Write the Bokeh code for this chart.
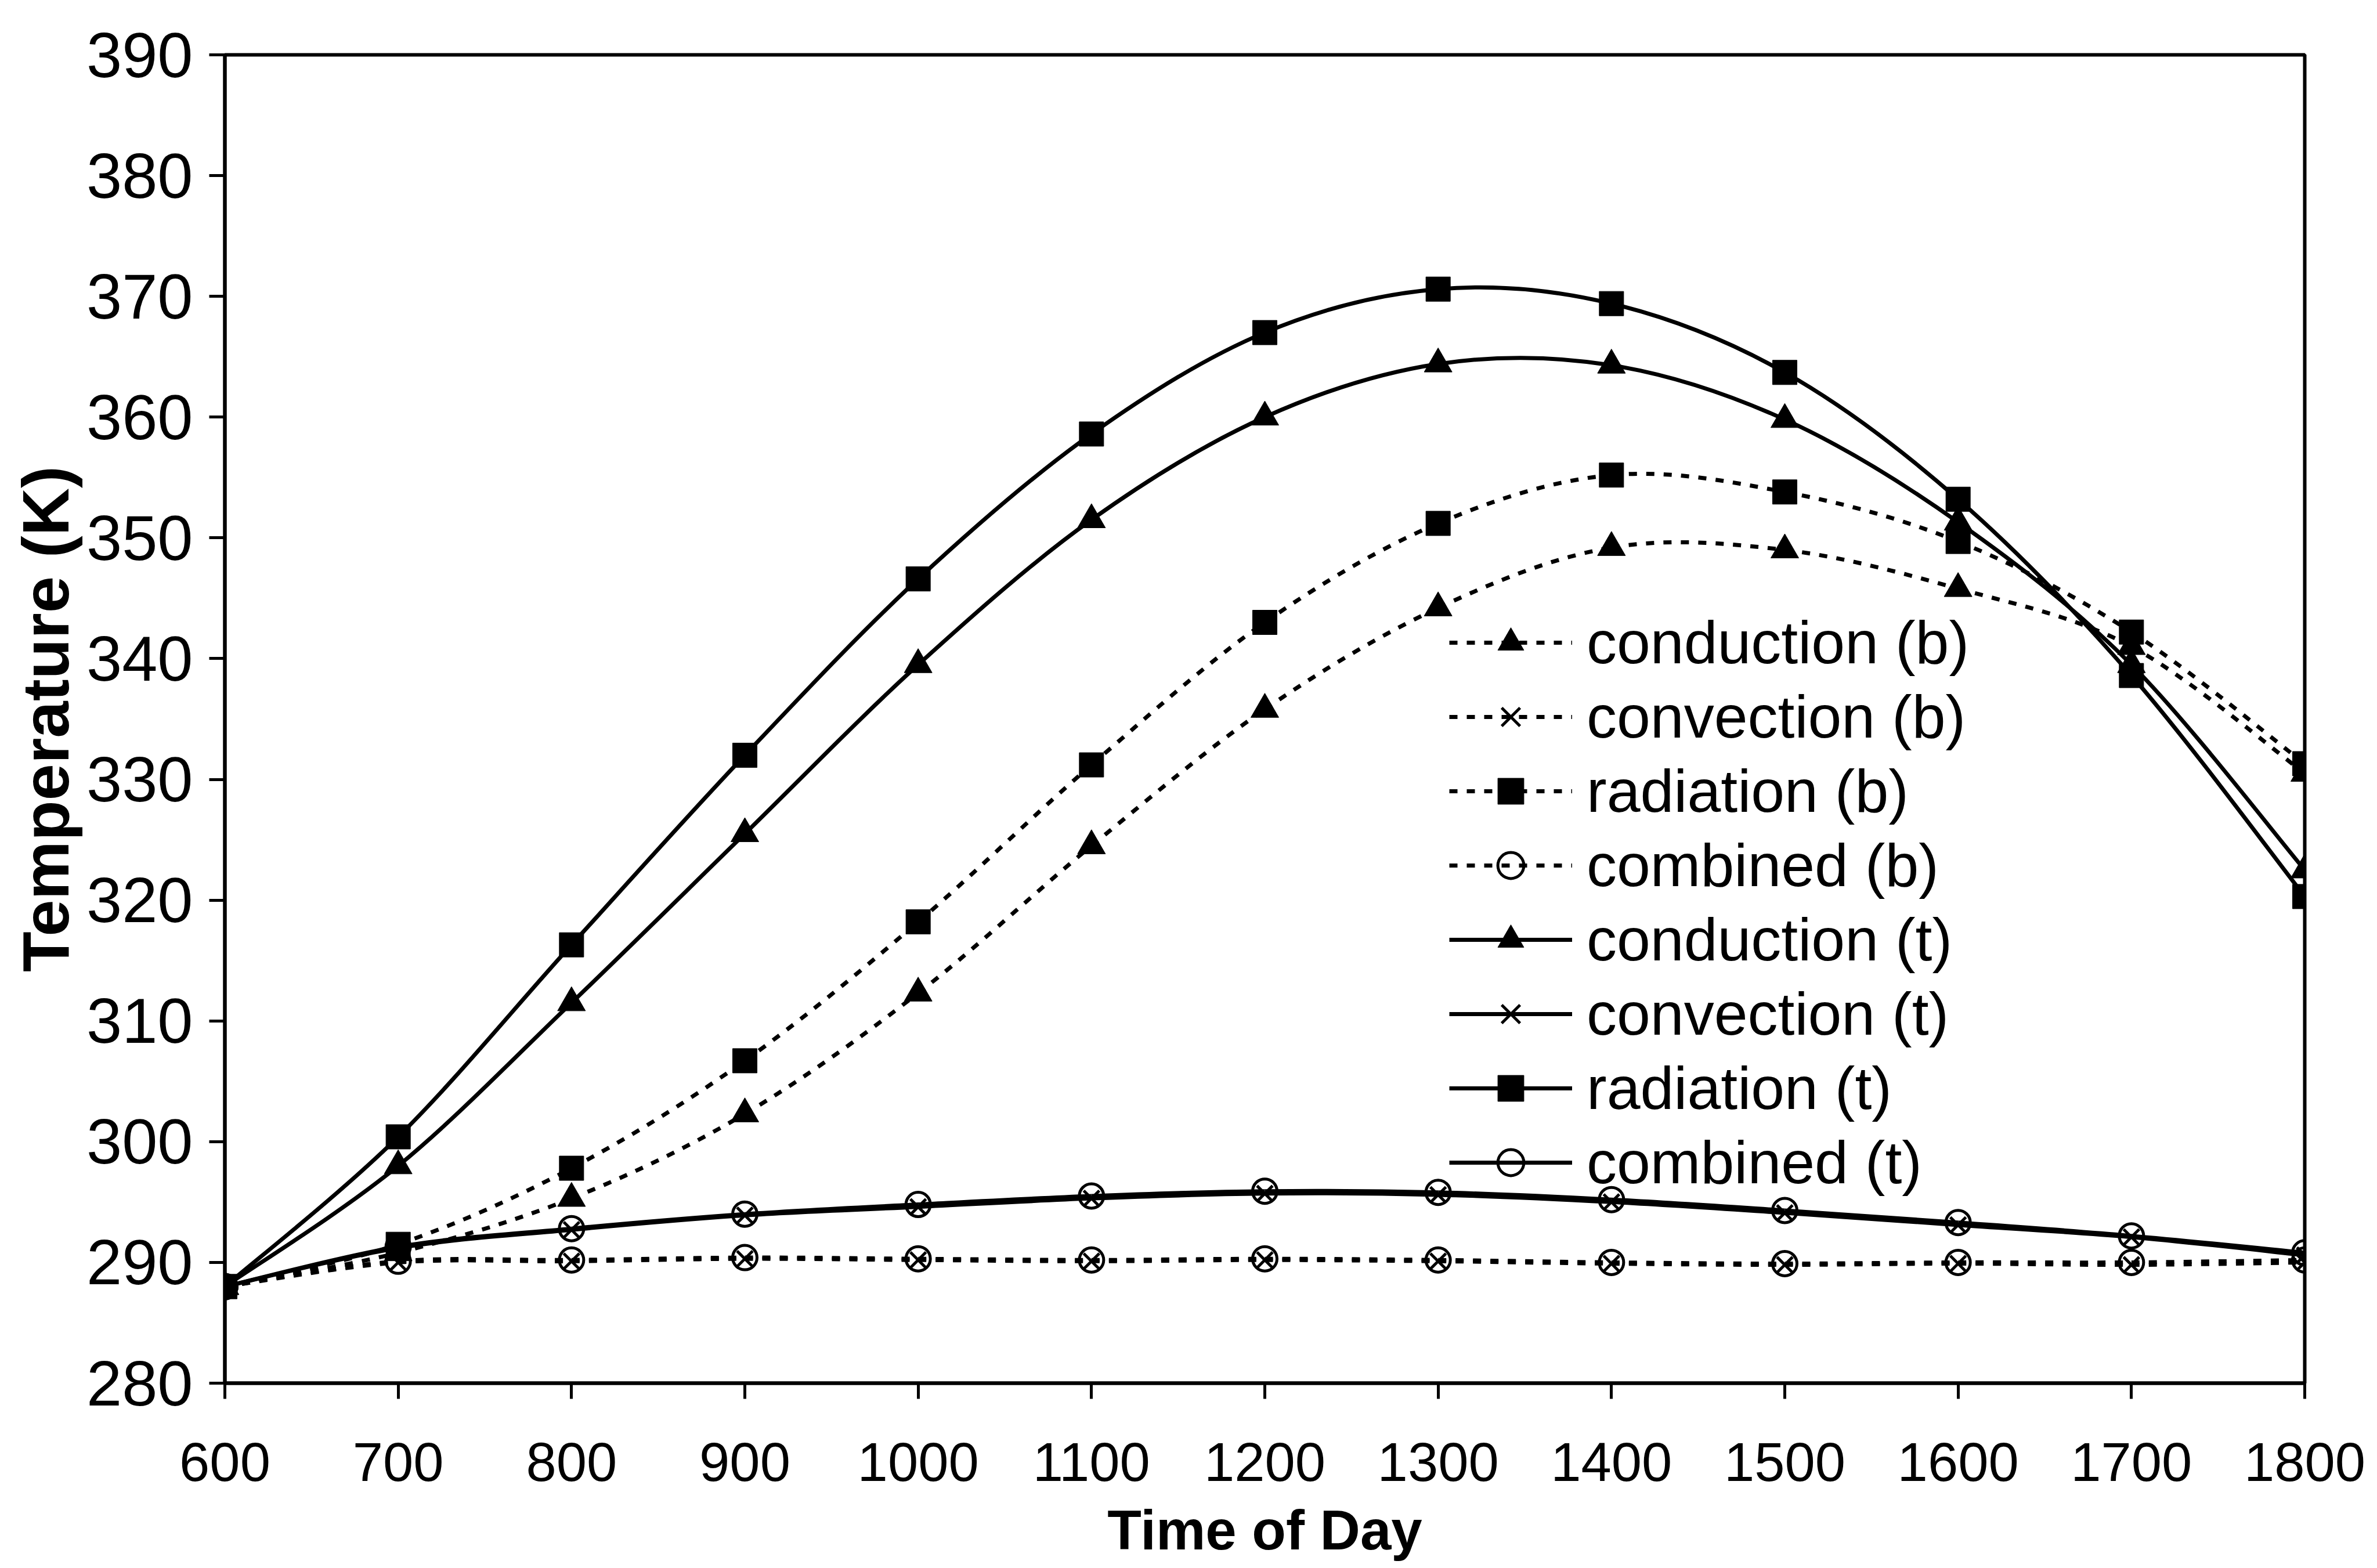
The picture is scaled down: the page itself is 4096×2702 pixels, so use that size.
from bokeh.plotting import figure
from bokeh.models import Range1d, FixedTicker, Legend, LegendItem, ColumnDataSource, CDSView, IndexFilter
from bokeh.embed import file_html
from bokeh.resources import INLINE

# ---------------- data ----------------
time_of_day = [600, 700, 800, 900, 1000, 1100, 1200, 1300, 1400, 1500, 1600, 1700, 1800]

conduction_b = [288, 290.8, 295.3, 302.3, 312.3, 324.5, 335.8, 344.2, 349.2, 349.0, 345.8, 341.0, 330.5]
convection_b = [288, 290.0, 290.1, 290.3, 290.2, 290.1, 290.2, 290.1, 289.9, 289.8, 289.9, 289.8, 290.0]
radiation_b = [288, 291.5, 297.8, 306.7, 318.2, 331.2, 343.0, 351.2, 355.2, 353.8, 349.7, 342.2, 331.3]
combined_b = [288, 290.1, 290.2, 290.4, 290.3, 290.2, 290.3, 290.2, 290.0, 289.9, 290.0, 290.0, 290.2]
conduction_t = [288, 298.0, 311.5, 325.5, 339.5, 351.5, 360.0, 364.4, 364.3, 359.8, 351.3, 339.5, 322.5]
convection_t = [288, 291.2, 292.7, 293.9, 294.6, 295.3, 295.7, 295.6, 295.0, 294.1, 293.1, 292.1, 290.6]
radiation_t = [288, 300.4, 316.3, 332.0, 346.6, 358.6, 367.0, 370.6, 369.4, 363.7, 353.2, 338.6, 320.3]
combined_t = [288, 291.3, 292.8, 294.0, 294.8, 295.5, 295.9, 295.8, 295.2, 294.3, 293.3, 292.2, 290.8]

x_ticks = [600, 700, 800, 900, 1000, 1100, 1200, 1300, 1400, 1500, 1600, 1700, 1800]
y_ticks = [280, 290, 300, 310, 320, 330, 340, 350, 360, 370, 380, 390]

series = [
    ("conduction (b)", conduction_b, "triangle", "dash"),
    ("convection (b)", convection_b, "x", "dash"),
    ("radiation (b)", radiation_b, "square", "dash"),
    ("combined (b)", combined_b, "circle", "dash"),
    ("conduction (t)", conduction_t, "triangle", "solid"),
    ("convection (t)", convection_t, "x", "solid"),
    ("radiation (t)", radiation_t, "square", "solid"),
    ("combined (t)", combined_t, "circle", "solid"),
]

FONT = "Liberation Sans"

p = figure(width=4080, height=2700, output_backend="svg", toolbar_location=None,
           x_range=Range1d(600, 1800), y_range=Range1d(280, 390),
           min_border_left=387, min_border_right=109, min_border_top=94, min_border_bottom=317)
p.background_fill_color = "white"
p.border_fill_color = "white"
p.xgrid.visible = False
p.ygrid.visible = False
p.outline_line_color = "black"
p.outline_line_width = 6

for ax in (p.xaxis[0], p.yaxis[0]):
    ax.axis_line_width = 6
    ax.major_tick_line_width = 5
    ax.major_tick_out = 27
    ax.major_tick_in = 0
    ax.minor_tick_out = 0
    ax.minor_tick_in = 0
    ax.major_label_text_font = FONT
    ax.major_label_text_color = "black"
    ax.axis_label_text_font = FONT
    ax.axis_label_text_font_style = "bold"
    ax.axis_label_text_color = "black"

p.xaxis.ticker = FixedTicker(ticks=x_ticks)
p.yaxis.ticker = FixedTicker(ticks=y_ticks)
p.xaxis.axis_label = "Time of Day"
p.yaxis.axis_label = "Temperature (K)"
p.xaxis.major_label_text_font_size = "94px"
p.yaxis.major_label_text_font_size = "110px"
p.xaxis.axis_label_text_font_size = "96px"
p.yaxis.axis_label_text_font_size = "114px"
p.xaxis.major_label_standoff = 76
p.yaxis.major_label_standoff = 28
p.xaxis.axis_label_standoff = 28
p.yaxis.axis_label_standoff = 4


def smooth_segments(xs, ys):
    n = len(xs)
    seg = dict(x0=[], y0=[], x1=[], y1=[], cx0=[], cy0=[], cx1=[], cy1=[])
    for i in range(n - 1):
        a = i - 1 if i > 0 else i
        d = i + 2 if i + 2 < n else i + 1
        seg["x0"].append(xs[i]); seg["y0"].append(ys[i])
        seg["x1"].append(xs[i + 1]); seg["y1"].append(ys[i + 1])
        seg["cx0"].append(xs[i] + (xs[i + 1] - xs[a]) / 6)
        seg["cy0"].append(ys[i] + (ys[i + 1] - ys[a]) / 6)
        seg["cx1"].append(xs[i + 1] - (xs[d] - xs[i]) / 6)
        seg["cy1"].append(ys[i + 1] - (ys[d] - ys[i]) / 6)
    return seg


items = []
for label, vals, marker, style in series:
    dash = "14 16" if style == "dash" else "solid"
    seg = smooth_segments(time_of_day, vals)
    p.bezier(line_color="black", line_width=7, line_dash=dash, **seg)
    # single-point line renderer: draws nothing in the plot, supplies the legend's line sample
    src = ColumnDataSource(dict(x=time_of_day, y=vals))
    lr = p.line("x", "y", source=src, view=CDSView(filter=IndexFilter(indices=[0])),
                line_color="black", line_width=7, line_dash=dash)
    if marker == "circle":
        sr = p.scatter(time_of_day, vals, marker="circle", size=42, fill_alpha=0,
                       line_color="black", line_width=5)
    elif marker == "x":
        sr = p.scatter(time_of_day, vals, marker="x", size=38,
                       line_color="black", line_width=5)
    elif marker == "triangle":
        sr = p.scatter(time_of_day, vals, marker="triangle", size=48,
                       fill_color="black", line_color="black", line_width=1)
    else:
        sr = p.scatter(time_of_day, vals, marker="square", size=42,
                       fill_color="black", line_color="black", line_width=1)
    items.append(LegendItem(label=label, renderers=[lr, sr]))

legend = Legend(items=items, location=(2110, 316), orientation="vertical",
                glyph_width=212, glyph_height=112, label_height=128, spacing=0,
                label_standoff=25, padding=0, margin=0,
                label_text_font=FONT, label_text_font_size="104px",
                label_text_color="black",
                border_line_color=None, background_fill_alpha=0)
p.add_layout(legend, "center")

open("out.html", "w").write(file_html(p, INLINE))
